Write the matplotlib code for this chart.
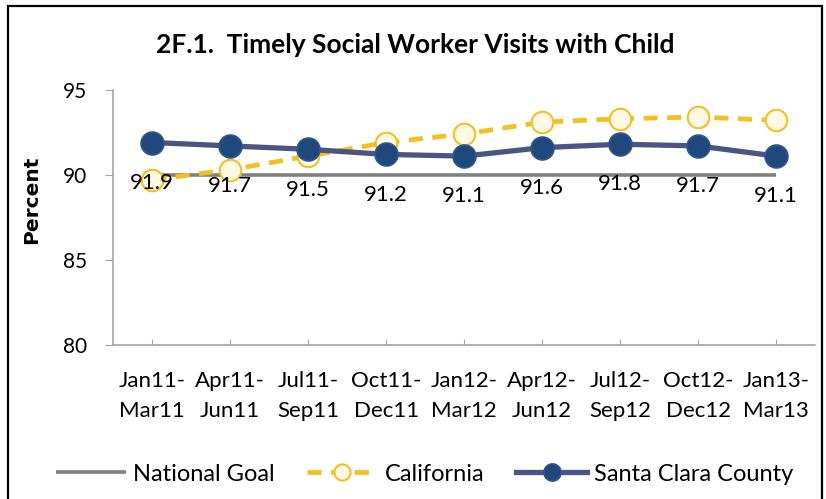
import matplotlib
matplotlib.use('Agg')
import matplotlib.pyplot as plt
from matplotlib.patches import Rectangle

plt.rcParams['font.family'] = ['Lato', 'DejaVu Sans']

quarters = ['Jan11-\nMar11', 'Apr11-\nJun11', 'Jul11-\nSep11', 'Oct11-\nDec11', 'Jan12-\nMar12',
            'Apr12-\nJun12', 'Jul12-\nSep12', 'Oct12-\nDec12', 'Jan13-\nMar13']
national_goal = [90, 90, 90, 90, 90, 90, 90, 90, 90]
california = [89.7, 90.3, 91.1, 91.9, 92.4, 93.1, 93.3, 93.4, 93.2]
santa_clara = [91.9, 91.7, 91.5, 91.2, 91.1, 91.6, 91.8, 91.7, 91.1]

GRAY = '#808080'
GOLD = '#F5BF22'
CREAM = '#FFF8E4'
NAVY = '#1F497D'
SLATE = '#4B5582'
AXIS = '#a6a6a6'

fig = plt.figure(figsize=(8.26, 4.99), dpi=100)
fig.patch.set_facecolor('white')
ax = fig.add_axes([0.137, 0.309, 0.850, 0.511])

x = list(range(len(quarters)))
ax.plot(x, national_goal, color=GRAY, lw=2.6, solid_capstyle='butt', label='National Goal', zorder=2)
ax.plot(x, california, color=GOLD, lw=3.4, ls=(0, (3, 2)), marker='o', ms=15.5,
        mfc=CREAM, mec=GOLD, mew=1.5, label='California', zorder=3)
ax.plot(x, santa_clara, color=SLATE, lw=3.8, marker='o', ms=16.5,
        mfc=NAVY, mec='#34558a', mew=1.2, label='Santa Clara County', zorder=4)

for xi, v in zip(x, santa_clara):
    ax.annotate(f'{v:.1f}', (xi, v), xytext=(0, -29), textcoords='offset points',
                ha='center', va='center', fontsize=16, color='black', zorder=5)

ax.set_xlim(-0.5, len(quarters) - 0.5)
ax.set_ylim(80, 95)
ax.set_yticks([80, 85, 90, 95])
ax.set_xticks(x)
ax.set_xticklabels(quarters, fontsize=16, linespacing=1.6)
ax.tick_params(axis='x', length=4.5, color=AXIS, direction='in', pad=19)
ax.tick_params(axis='y', length=6, color=AXIS, labelsize=15, pad=13)
for s in ['top', 'right']:
    ax.spines[s].set_visible(False)
for s in ['left', 'bottom']:
    ax.spines[s].set_color(AXIS)
    ax.spines[s].set_linewidth(1.2)

fig.text(32 / 826, 1 - 200 / 499, 'Percent', rotation=90, ha='center', va='center',
         fontsize=14.5, fontweight='bold', family=['DejaVu Sans'])
fig.text(0.503, 0.910, '2F.1.  Timely Social Worker Visits with Child', ha='center', va='center',
         fontsize=19, fontweight='bold')

handles, labels = ax.get_legend_handles_labels()
fig.legend(handles, labels, loc='center', bbox_to_anchor=(0.514, 0.050), ncol=3, frameon=False,
           fontsize=17, handlelength=3.0, columnspacing=1.35, handletextpad=0.3, markerscale=0.75)

fig.patches.append(Rectangle((0.010, -0.02), 0.985, 1.007, transform=fig.transFigure,
                             fill=False, edgecolor='black', lw=1.6))

fig.savefig('out.png', dpi=100, facecolor='white')
